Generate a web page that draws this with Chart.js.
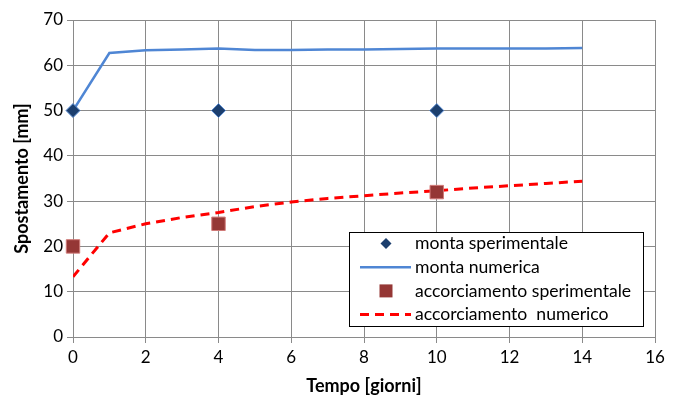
<!DOCTYPE html>
<html>
<head>
<meta charset="utf-8">
<script src="https://cdn.jsdelivr.net/npm/chart.js@4"></script>
<style>
  html, body { margin: 0; padding: 0; background: #fff; }
  #wrap { width: 678px; height: 398px; }
</style>
</head>
<body>
<div id="wrap"><canvas id="chart" width="678" height="398"></canvas></div>
<script>
// Data
const days = [0, 1, 2, 3, 4, 5, 6, 7, 8, 9, 10, 11, 12, 13, 14];
const montaNumerica = [50, 62.7, 63.3, 63.5, 63.7, 63.4, 63.4, 63.5, 63.5, 63.6, 63.7, 63.7, 63.7, 63.7, 63.8];
const accNumerico = [13.3, 23.0, 25.0, 26.4, 27.5, 28.8, 29.8, 30.6, 31.2, 31.8, 32.3, 32.9, 33.4, 33.9, 34.4];

const expDays = [0, 4, 10];
const montaSperimentale = [50, 50, 50];
const accSperimentale = [20, 25, 32];

const xTicks = [0, 2, 4, 6, 8, 10, 12, 14, 16];
const yTicks = [0, 10, 20, 30, 40, 50, 60, 70];

const seriesNames = ['monta sperimentale', 'monta numerica', 'accorciamento sperimentale', 'accorciamento  numerico'];

const FONT = 'Lato, "Open Sans", sans-serif';
const gridColor = '#8a8a8a';

function toPoints(xs, ys) {
    return xs.map((x, i) => ({ x: x, y: ys[i] }));
}

// Legend drawn inside the plot area (bottom right), like the original
const innerLegend = {
    id: 'innerLegend',
    afterDraw(chart) {
        const ctx = chart.ctx;
        const area = chart.chartArea;
        const x0 = area.right - 306, y0 = area.bottom - 105;
        const w = 294, h = 94;
        ctx.save();
        ctx.fillStyle = '#fff';
        ctx.fillRect(x0, y0, w, h);
        ctx.strokeStyle = '#000';
        ctx.lineWidth = 1;
        ctx.strokeRect(x0 + 0.5, y0 + 0.5, w, h);

        ctx.font = '17.6px ' + FONT;
        ctx.textBaseline = 'middle';
        ctx.fillStyle = '#000';
        const rowH = 23.7;
        chart.data.datasets.forEach((ds, i) => {
            const cy = y0 + 11.5 + i * rowH;
            const mx = x0 + 37;
            if (ds.showLine) {
                ctx.beginPath();
                ctx.strokeStyle = ds.borderColor;
                ctx.lineWidth = ds.borderWidth;
                ctx.setLineDash(ds.borderDash || []);
                ctx.moveTo(x0 + 11, cy);
                ctx.lineTo(x0 + 62, cy);
                ctx.stroke();
                ctx.setLineDash([]);
            } else {
                ctx.beginPath();
                ctx.fillStyle = ds.backgroundColor;
                if (ds.pointStyle === 'rectRot') {
                    const r = 5.5;
                    ctx.moveTo(mx, cy - r);
                    ctx.lineTo(mx + r, cy);
                    ctx.lineTo(mx, cy + r);
                    ctx.lineTo(mx - r, cy);
                    ctx.closePath();
                } else {
                    ctx.rect(mx - 6.5, cy - 6.5, 13, 13);
                }
                ctx.fill();
                ctx.fillStyle = '#000';
            }
            ctx.fillText(ds.label, x0 + 66, cy);
        });
        ctx.restore();
    }
};

const ctx = document.getElementById('chart').getContext('2d');
const chart = new Chart(ctx, {
    type: 'scatter',
    data: {
        datasets: [
            {
                label: seriesNames[0],
                data: toPoints(expDays, montaSperimentale),
                pointStyle: 'rectRot',
                pointRadius: 7,
                backgroundColor: '#1c3f6e',
                borderColor: '#5b8cd0',
                borderWidth: 1,
                showLine: false,
                clip: false,
                order: 0
            },
            {
                label: seriesNames[1],
                data: toPoints(days, montaNumerica),
                showLine: true,
                borderColor: '#4f86d4',
                borderWidth: 2.5,
                pointRadius: 0,
                fill: false,
                order: 2
            },
            {
                label: seriesNames[2],
                data: toPoints(expDays, accSperimentale),
                pointStyle: 'rect',
                pointRadius: 9.5,
                backgroundColor: '#953735',
                borderColor: '#d07a78',
                borderWidth: 1,
                showLine: false,
                clip: false,
                order: 1
            },
            {
                label: seriesNames[3],
                data: toPoints(days, accNumerico),
                showLine: true,
                borderColor: '#ff0000',
                borderWidth: 3,
                borderDash: [9, 6],
                pointRadius: 0,
                fill: false,
                order: 3
            }
        ]
    },
    options: {
        responsive: false,
        animation: false,
        layout: {
            padding: { left: 8, right: 23, top: 20, bottom: 1 }
        },
        scales: {
            x: {
                type: 'linear',
                min: 0,
                max: 16,
                afterBuildTicks(scale) {
                    scale.ticks = xTicks.map(v => ({ value: v }));
                },
                afterFit(scale) {
                    scale.height = 398 - 337 - 1;
                },
                grid: { color: gridColor, lineWidth: 1, tickLength: 6, drawTicks: true },
                border: { color: gridColor },
                ticks: { color: '#000', font: { family: FONT, size: 17 }, padding: 4 },
                title: {
                    display: true,
                    text: 'Tempo [giorni]',
                    color: '#000',
                    font: { family: FONT, size: 18, weight: 'bold' },
                    padding: { top: 4, bottom: 0 }
                }
            },
            y: {
                min: 0,
                max: 70,
                afterBuildTicks(scale) {
                    scale.ticks = yTicks.map(v => ({ value: v }));
                },
                afterFit(scale) {
                    scale.width = 73 - 8;
                },
                grid: { color: gridColor, lineWidth: 1, tickLength: 6, drawTicks: true },
                border: { color: gridColor },
                ticks: { color: '#000', font: { family: FONT, size: 17 }, padding: 4 },
                title: {
                    display: true,
                    text: 'Spostamento [mm]',
                    color: '#000',
                    font: { family: FONT, size: 18, weight: 'bold' },
                    padding: { top: 3, bottom: 4 }
                }
            }
        },
        plugins: {
            legend: { display: false },
            tooltip: { enabled: false }
        }
    },
    plugins: [innerLegend]
});
</script>
</body>
</html>
